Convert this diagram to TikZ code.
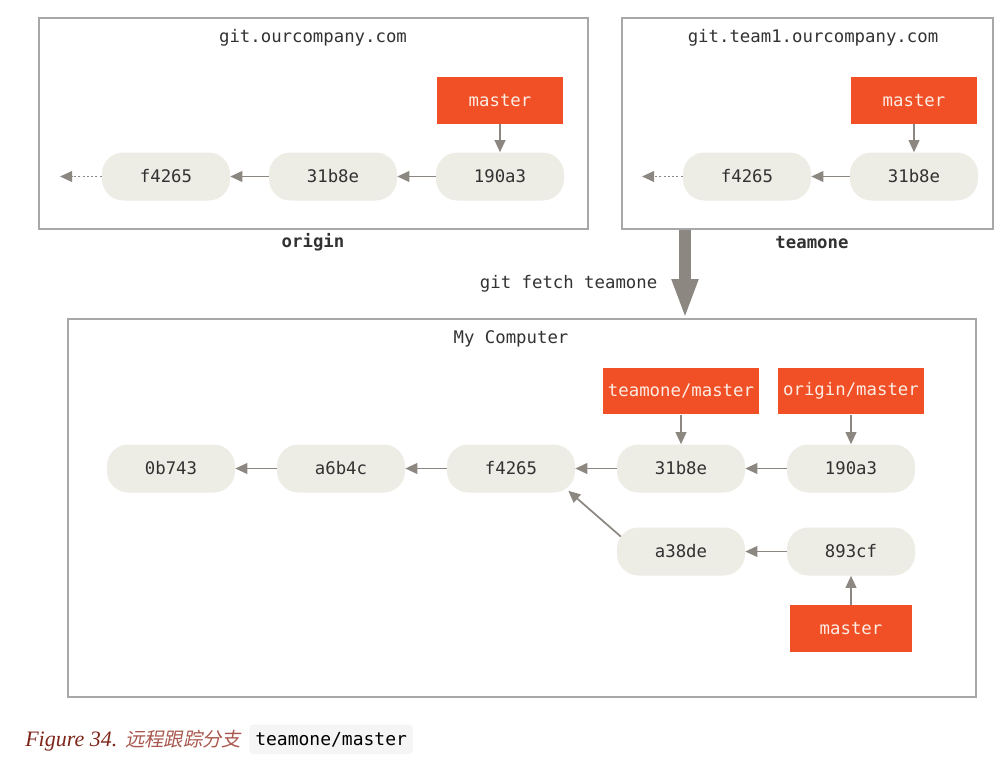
\documentclass[tikz,border=0pt]{standalone}
\usepackage{fontspec}
\setmainfont{Liberation Serif}
\setmonofont{DejaVu Sans Mono}
\newfontfamily\cjk[FakeSlant=0.2]{Noto Sans CJK SC}
\usetikzlibrary{arrows.meta}

\definecolor{commitfill}{RGB}{237,236,229}
\definecolor{reforange}{RGB}{241,80,38}
\definecolor{arrowgrey}{RGB}{140,135,128}
\definecolor{boxline}{RGB}{168,168,168}
\definecolor{textdark}{RGB}{50,50,50}
\definecolor{reftext}{RGB}{252,236,228}
\definecolor{capred}{RGB}{125,38,26}
\definecolor{caplight}{RGB}{168,88,78}
\definecolor{codebg}{RGB}{245,245,245}

\tikzset{
  x=0.75pt, y=-0.75pt,
  mono/.style={font=\ttfamily\fontsize{13}{15}\selectfont},
  commit/.style={mono, fill=commitfill, text=textdark, rounded corners=16pt,
    minimum width=96pt, minimum height=36pt, inner sep=0pt},
  ref/.style={mono, fill=reforange, text=reftext, minimum height=35pt,
    minimum width=92pt, inner xsep=4pt, inner ysep=0pt},
  server/.style={draw=boxline, line width=1.1pt},
  title/.style={mono, text=textdark},
  label/.style={mono, font=\ttfamily\bfseries\fontsize{13}{15}\selectfont, text=textdark},
  parent/.style={draw=arrowgrey, line width=1.3pt, -{Triangle[length=9pt,width=8pt]}},
  older/.style={parent, dash pattern=on 1.6pt off 1.6pt}
}

\begin{document}
\begin{tikzpicture}
\useasboundingbox (0,0) rectangle (994,767);

% ---------- origin server ----------
\node[server, minimum width=411.75pt, minimum height=158.25pt, inner sep=0pt] (originbox) at (313.5,123.5) {};
\node[title] (origintitle) at (313,38) {git.ourcompany.com};
\node[commit] (of4265) at (166,176.5) {f4265};
\node[commit] (o31b8e) at (333,176.5) {31b8e};
\node[commit] (o190a3) at (500,176.5) {190a3};
\node[ref, minimum width=94pt] (omaster) at (500,100.5) {master};
\coordinate (oold) at (60,176.5);
\draw[parent] (omaster) -- (o190a3);
\draw[parent] (o190a3) -- (o31b8e);
\draw[parent] (o31b8e) -- (of4265);
\draw[older] (of4265) -- (oold);
\node[label] (originlabel) at (313,242.5) {origin};

% ---------- teamone server ----------
\node[server, minimum width=278.25pt, minimum height=158.25pt, inner sep=0pt] (teambox) at (807.5,123.5) {};
\node[title] (teamtitle) at (813,38) {git.team1.ourcompany.com};
\node[commit] (tf4265) at (747,176.5) {f4265};
\node[commit] (t31b8e) at (914,176.5) {31b8e};
\node[ref, minimum width=94pt] (tmaster) at (914,100.5) {master};
\coordinate (told) at (642,176.5);
\draw[parent] (tmaster) -- (t31b8e);
\draw[parent] (t31b8e) -- (tf4265);
\draw[older] (tf4265) -- (told);
\node[label] (teamlabel) at (812,242.5) {teamone};

% ---------- fetch ----------
\coordinate (fetchtop) at (685,229.5);
\coordinate (fetchbot) at (685,319);
\draw[draw=arrowgrey, line width=9pt, -{Triangle[length=30pt,width=18pt]}] (fetchtop) -- (fetchbot);
\node[title, anchor=east] (fetchcmd) at (662,284) {git fetch teamone};

% ---------- local repository ----------
\node[server, minimum width=681pt, minimum height=283.5pt, inner sep=0pt] (localbox) at (522,508) {};
\node[title] (localtitle) at (511,338.5) {My Computer};

\node[commit] (l0b743) at (171,468.5) {0b743};
\node[commit] (la6b4c) at (341,468.5) {a6b4c};
\node[commit] (lf4265) at (511,468.5) {f4265};
\node[commit] (l31b8e) at (681,468.5) {31b8e};
\node[commit] (l190a3) at (851,468.5) {190a3};
\node[commit] (la38de) at (681,551.5) {a38de};
\node[commit] (l893cf) at (851,551.5) {893cf};

\node[ref] (teammaster) at (681,391) {teamone/master};
\node[ref] (originmaster) at (851,391) {origin/master};
\node[ref] (lmaster) at (851,628.5) {master};

\draw[parent] (teammaster) -- (l31b8e);
\draw[parent] (originmaster) -- (l190a3);
\draw[parent] (lmaster) -- (l893cf);
\draw[parent] (l190a3) -- (l31b8e);
\draw[parent] (l31b8e) -- (lf4265);
\draw[parent] (lf4265) -- (la6b4c);
\draw[parent] (la6b4c) -- (l0b743);
\draw[parent] (l893cf) -- (la38de);
\draw[parent] ([shift={(4,-15)}]la38de.west) -- ([shift={(-7,-2)}]lf4265.south east);

% ---------- caption ----------
\node[anchor=base west, inner sep=0pt, text=capred, font=\itshape\fontsize{16.5}{18}\selectfont] (capfig) at (25,746) {Figure 34.};
\node[anchor=base west, inner sep=0pt, text=caplight, font=\cjk\fontsize{14.5}{18}\selectfont] (capcn) at (125,746) {远程跟踪分支};
\node[anchor=base west, fill=codebg, rounded corners=3pt, inner xsep=4.5pt, inner ysep=5.5pt, text=black,
  font=\ttfamily\fontsize{13.5}{15}\selectfont] (capcode) at (249,745) {teamone/master};
\end{tikzpicture}
\end{document}
